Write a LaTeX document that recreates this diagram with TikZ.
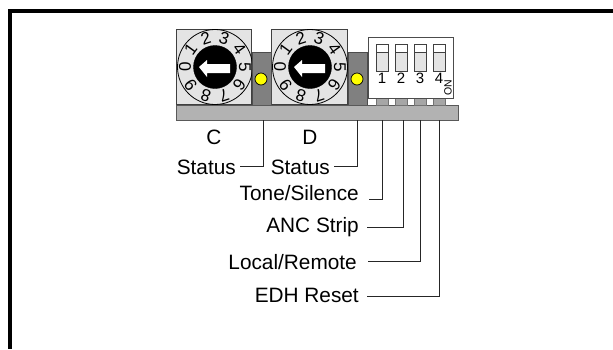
\documentclass[tikz,border=0pt]{standalone}
\usepackage{fontspec}
\setmainfont{Liberation Sans}
\usetikzlibrary{calc}
\definecolor{dialgray}{HTML}{E4E4E4}
\definecolor{blockgray}{HTML}{808080}
\definecolor{bargray}{HTML}{B2B2B2}
\definecolor{tabgray}{HTML}{A6A6A6}
\definecolor{ledyellow}{HTML}{FFFF00}
\newcommand{\bigfont}{\fontsize{20.8}{24}\selectfont}
%% one rotary switch: #1 = name, #2 = centre of the knob, #3 = centre of its square
\newcommand{\dial}[3]{
  \node[dialbox] (#1box) at (#3,67) {};
  \node[ring] (#1ring) at (#2,67) {};
  \foreach \d in {0,...,9}{
    \pgfmathsetmacro{\ang}{180-36*\d}
    \node[digit, rotate=\ang-90] (#1d\d) at ($(#1ring.center)+(\ang:30pt)$) {\d};
  }
  \node[knob] (#1knob) at (#1ring.center) {};
  \fill[white] ($(#1ring.center)+(-16,0)$) -- ++(8,-7) -- ++(0,4) -- ++(23,0)
    -- ++(0,9) -- ++(-23,0) -- ++(0,4) -- cycle;
}

\begin{document}
\begin{tikzpicture}[
  x=1pt, y=-1pt,
  frame/.style={draw=black, line width=4pt},
  dialbox/.style={draw=black!75, line width=0.8pt, fill=dialgray, minimum size=75.5pt, inner sep=0pt},
  ring/.style={circle, draw=black, line width=0.8pt, minimum size=75pt, inner sep=0pt},
  knob/.style={circle, draw=black, fill=black, minimum size=43pt, inner sep=0pt},
  digit/.style={font=\fontsize{17}{19}\selectfont, inner sep=0pt},
  block/.style={draw=black!70, line width=0.8pt, fill=blockgray, minimum width=19pt, minimum height=53pt, inner sep=0pt},
  led/.style={circle, draw=black, line width=0.7pt, fill=ledyellow, minimum size=12pt, inner sep=0pt},
  bar/.style={draw=black!65, line width=0.6pt, fill=bargray, minimum width=282pt, minimum height=15pt, inner sep=0pt},
  dipbox/.style={draw=black!70, line width=0.8pt, fill=white, minimum width=85pt, minimum height=61pt, inner sep=0pt},
  slot/.style={draw=black!75, line width=0.7pt, fill=dialgray, minimum width=12pt, minimum height=27pt, inner sep=0pt},
  slottop/.style={draw=black!75, line width=0.7pt, fill=white, minimum width=12pt, minimum height=8pt, inner sep=0pt},
  tab/.style={draw=black!55, line width=0.5pt, fill=tabgray, minimum width=11.5pt, minimum height=7pt, inner sep=0pt},
  dipnum/.style={font=\fontsize{15}{17}\selectfont, inner sep=0pt},
  lab/.style={font=\bigfont, inner sep=0pt},
  lead/.style={draw=black!85, line width=1pt}
]
\useasboundingbox (0,0) rectangle (613,349);

%% ---- frame ----------------------------------------------------------------
\coordinate (frameTop) at (613,11);
\coordinate (frameCorner) at (10,11);
\coordinate (frameEnd) at (10,349);
\draw[frame, line cap=butt] (frameTop) -- (frameCorner) -- (frameEnd);

%% ---- switches and status blocks -------------------------------------------
\dial{c}{215}{214}
\dial{d}{310}{309.5}

\node[block] (cBlock) at (261.5,78.5) {};
\node[block] (dBlock) at (357.5,78.5) {};
\node[led] (cLed) at (261,79) {};
\node[led] (dLed) at (357,79) {};

\node[bar] (base) at (317,112.5) {};

%% ---- dip switch -----------------------------------------------------------
\foreach \n/\xx in {1/382,2/401,3/420,4/439}{
  \node[tab] (tab\n) at (\xx,101.5) {};
}
\node[dipbox] (dip) at (410.5,67.5) {};
\foreach \n/\xx in {1/382,2/401,3/420,4/439}{
  \node[slot] (slot\n) at (\xx,57.5) {};
  \node[slottop] (top\n) at (\xx,48) {};
  \node[dipnum] (num\n) at (\xx,78.5) {\n};
}
\node[font=\fontsize{10.5}{12}\selectfont, rotate=90, inner sep=0pt] (on) at (448,87.5) {ON};

%% ---- labels ---------------------------------------------------------------
\node[lab] (cName) at (214,137) {C};
\node[lab] (dName) at (310,137) {D};
\node[lab, anchor=east] (cStatus) at (236,167) {Status};
\node[lab, anchor=east] (dStatus) at (330,167) {Status};
\node[lab, anchor=east] (tone) at (359,193) {Tone/Silence};
\node[lab, anchor=east] (anc) at (359,227) {ANC Strip};
\node[lab, anchor=east] (local) at (357,262) {Local/Remote};
\node[lab, anchor=east] (edh) at (359,295) {EDH Reset};

%% ---- leaders, from the label side up to the base --------------------------
\coordinate (cEnd) at (240,166);
\coordinate (dEnd) at (334,166);
\coordinate (toneEnd) at (369,199);
\coordinate (ancEnd) at (367,227);
\coordinate (localEnd) at (368,261);
\coordinate (edhEnd) at (367,296);
\coordinate (cTop) at (263,120);
\coordinate (ancTop) at (403,120);

\draw[lead] (cEnd) -| (cTop);
\draw[lead] (dEnd) -| (dLed.center |- base.south);
\draw[lead] (toneEnd) -| (tab1.center |- base.south);
\draw[lead] (ancEnd) -| (ancTop);
\draw[lead] (localEnd) -| (tab3.center |- base.south);
\draw[lead] (edhEnd) -| (tab4.center |- base.south);

\end{tikzpicture}
\end{document}
